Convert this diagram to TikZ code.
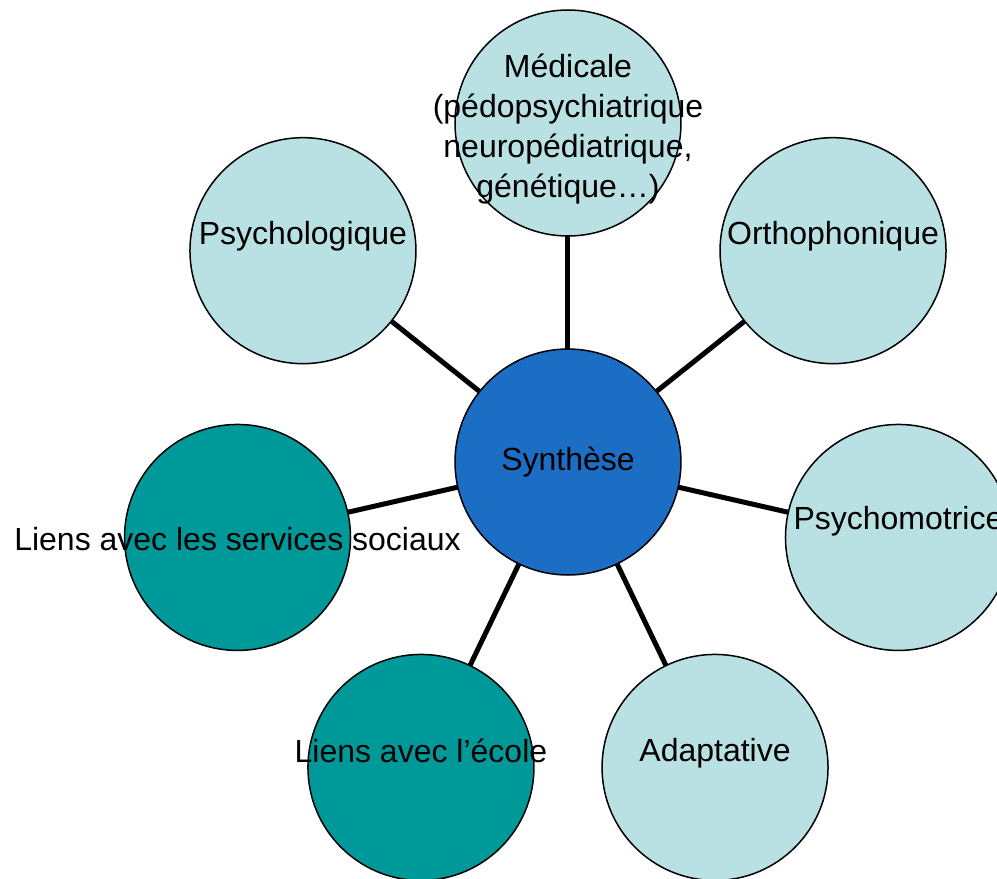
\documentclass[tikz,border=0pt]{standalone}
\usepackage{fontspec}
\setmainfont{Liberation Sans}
\usepackage{tikz}
\definecolor{centrecolor}{RGB}{28,110,196}
\definecolor{palecolor}{RGB}{185,224,227}
\definecolor{tealcolor}{RGB}{0,153,153}
\tikzstyle{bubble} = [
    circle,
    draw=black,
    line width=0.75pt,
    minimum size=113pt,
    inner sep=0pt,
    outer sep=0pt
    ]
\tikzstyle{bubbletext} = [
    text=black,
    align=center,
    font=\fontsize{16}{20}\selectfont
    ]
\tikzstyle{link} = [
    draw=black,
    line width=2.5pt
    ]

\begin{document}
\begin{tikzpicture}[x=0.5pt,y=0.5pt]
\useasboundingbox (-568,-417) rectangle (429,462);

% circles
\node [bubble, fill=centrecolor] (syn) at (0,0) {};
\node [bubble, fill=palecolor] (med) at (90:339) {};
\node [bubble, fill=palecolor] (ortho) at (38.57:339) {};
\node [bubble, fill=palecolor] (psymot) at (-12.86:339) {};
\node [bubble, fill=palecolor] (adapt) at (-64.29:339) {};
\node [bubble, fill=tealcolor] (ecole) at (-115.71:339) {};
\node [bubble, fill=tealcolor] (social) at (-167.14:339) {};
\node [bubble, fill=palecolor] (psy) at (141.43:339) {};

% links
\draw [link] (syn) -- (med);
\draw [link] (syn) -- (ortho);
\draw [link] (syn) -- (psymot);
\draw [link] (syn) -- (adapt);
\draw [link] (syn) -- (ecole);
\draw [link] (syn) -- (social);
\draw [link] (syn) -- (psy);

% texts
\node [bubbletext] (syn-t) at (syn.center) {Synthèse};
\node [bubbletext] (med-t) at ([yshift=-3pt]med.center) {Médicale\\(pédopsychiatrique\\neuropédiatrique,\\génétique…)};
\node [bubbletext] (ortho-t) at ([yshift=7pt]ortho.center) {Orthophonique};
\node [bubbletext] (psymot-t) at ([yshift=8pt]psymot.center) {Psychomotrice};
\node [bubbletext] (adapt-t) at ([yshift=7pt]adapt.center) {Adaptative};
\node [bubbletext] (ecole-t) at ([yshift=8.5pt]ecole.center) {Liens avec l’école};
\node [bubbletext] (social-t) at ([yshift=-1pt]social.center) {Liens avec les services sociaux};
\node [bubbletext] (psy-t) at ([yshift=7pt]psy.center) {Psychologique};
\end{tikzpicture}
\end{document}
